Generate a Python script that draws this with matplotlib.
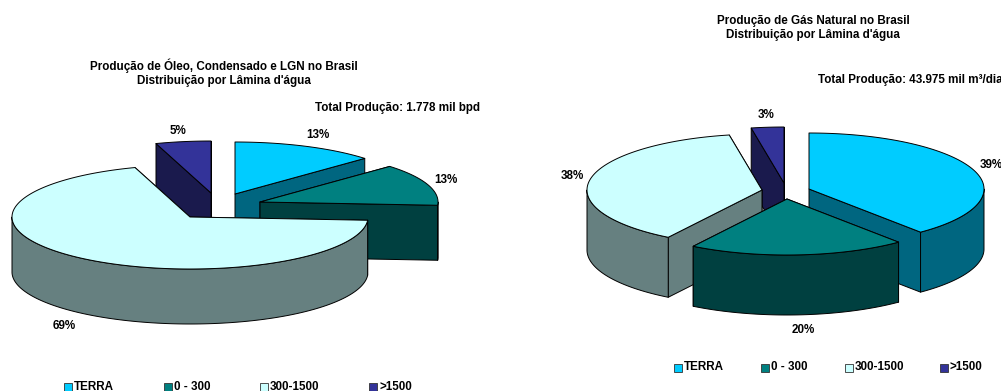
# coding: utf-8
import numpy as np
import matplotlib.pyplot as plt
from matplotlib.patches import Polygon, Rectangle
from matplotlib.colors import to_rgb

plt.rcParams['font.family'] = ['Liberation Sans', 'DejaVu Sans']

#Data
categories = ['TERRA', '0 - 300', '300-1500', '>1500']
oleo_values = [13, 13, 69, 5]
gas_values = [39, 20, 38, 3]

oleo_title = "Produção de Óleo, Condensado e LGN no Brasil\nDistribuição por Lâmina d'água"
gas_title = "Produção de Gás Natural no Brasil\nDistribuição por Lâmina d'água"
oleo_total = 'Total Produção: 1.778 mil bpd'
gas_total = 'Total Produção: 43.975 mil m³/dia'

#Style
top_colors = ['#00CCFF', '#008080', '#CCFFFF', '#333399']
FONT = 8.4

def darker(color):
    return tuple(c * 0.5 for c in to_rgb(color))

def rim(cx, cy, rx, ry, a0, a1):
    #points on the ellipse, angles clockwise from 12 o'clock
    t = np.radians(np.linspace(a0, a1, max(int(abs(a1 - a0)) * 2, 2)))
    return np.column_stack([cx + rx * np.sin(t), cy - ry * np.cos(t)])

def draw_slice(ax, color, cx, cy, rx, ry, depth, a0, a1):
    edge = dict(edgecolor='black', linewidth=0.7, joinstyle='round')
    side = darker(color)
    apex = np.array([cx, cy])
    down = np.array([0, depth])

    #cut faces, the one further back goes first
    ends = [rim(cx, cy, rx, ry, a, a)[0] for a in (a0, a1)]
    for p in sorted(ends, key=lambda q: q[1]):
        ax.add_patch(Polygon([apex, p, p + down, apex + down], facecolor=side, **edge))

    #outer wall, only the front half of the rim shows
    w0, w1 = max(a0, 90), min(a1, 270)
    if w1 > w0:
        arc = rim(cx, cy, rx, ry, w0, w1)
        ax.add_patch(Polygon(np.vstack([arc, arc[::-1] + down]), facecolor=side, **edge))

    #top surface
    ax.add_patch(Polygon(np.vstack([apex, rim(cx, cy, rx, ry, a0, a1)]), facecolor=color, **edge))

def draw_pie(ax, values, apexes, order, rx, ry, depth):
    edges = np.cumsum([0] + list(values)) / float(sum(values)) * 360
    for i in order:
        draw_slice(ax, top_colors[i], apexes[i][0], apexes[i][1], rx, ry, depth, edges[i], edges[i + 1])

def draw_legend(ax, square_x, y):
    for x, name, color in zip(square_x, categories, top_colors):
        ax.add_patch(Rectangle((x, y - 4), 8, 8, facecolor=color, edgecolor='#333333', linewidth=0.6))
        ax.text(x + 10, y, name, fontsize=FONT, fontweight='bold', va='center', ha='left')

fig = plt.figure(figsize=(10.01, 3.91), dpi=100)
ax = fig.add_axes([0, 0, 1, 1])
ax.set_xlim(0, 1001)
ax.set_ylim(391, 0)
ax.axis('off')

#Oil pie
draw_pie(ax, oleo_values, [(235, 194), (260, 202), (190, 217), (211, 193)],
         [0, 3, 1, 2], 178, 52, 55)
#Gas pie
draw_pie(ax, gas_values, [(809, 189), (787, 199), (762, 190), (784, 183)],
         [3, 2, 0, 1], 175, 56, 60)

#Titles
ax.text(224, 73, oleo_title, fontsize=FONT, fontweight='bold', ha='center', va='center', linespacing=1.25)
ax.text(813, 28, gas_title, fontsize=FONT, fontweight='bold', ha='center', va='center', linespacing=1.25)
ax.text(315, 108, oleo_total, fontsize=FONT, fontweight='bold', ha='left', va='center')
ax.text(818, 80, gas_total, fontsize=FONT, fontweight='bold', ha='left', va='center')

#Percent labels
oleo_labels = [(318, 135), (446, 180), (64, 326), (178, 131)]
for v, (x, y) in zip(oleo_values, oleo_labels):
    ax.text(x, y, '{}%'.format(v), fontsize=FONT, fontweight='bold', ha='center', va='center')
gas_labels = [(991, 165), (803, 330), (572, 176), (766, 115)]
for v, (x, y) in zip(gas_values, gas_labels):
    ax.text(x, y, '{}%'.format(v), fontsize=FONT, fontweight='bold', ha='center', va='center')

draw_legend(ax, [64, 164, 260, 369], 386.5)
draw_legend(ax, [674, 761, 845, 940], 367.5)

fig.savefig('out.png', dpi=100)
